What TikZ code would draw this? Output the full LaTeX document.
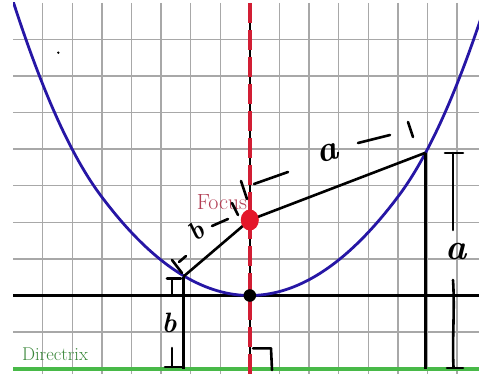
\documentclass[tikz,border=0pt]{standalone}
\usepackage{fontspec}
\definecolor{gridgray}{RGB}{168,168,168}
\definecolor{parblue}{RGB}{38,22,165}
\definecolor{focred}{RGB}{228,22,42}
\definecolor{axred}{RGB}{210,30,52}
\definecolor{dirgreen}{RGB}{72,185,72}
\definecolor{dirtext}{RGB}{58,135,58}
\definecolor{foctext}{RGB}{178,62,84}
\tikzset{
  gridline/.style={gridgray, line width=1.4pt},
  blackline/.style={black, line width=2.6pt},
  hand/.style={black, line width=2.6pt, line cap=round, line join=round},
  handtext/.style={inner sep=0pt, font=\bfseries\itshape\fontsize{#1}{#1}\selectfont},
  labeltext/.style={inner sep=0pt, font=\fontsize{#1}{#1}\selectfont}
}
\begin{document}
\begin{tikzpicture}[x=1pt,y=-1pt]
\useasboundingbox (0,0) rectangle (479,374);
\fill[white] (0,0) rectangle (479,374);
% grid
\foreach \i in {1,...,15} \draw[gridline] ({13+29.6*\i},3) -- ({13+29.6*\i},374);
\foreach \j in {-1,1,2,3,4,5,6,7} \draw[gridline] (13,{295.5-36.6*\j}) -- (479,{295.5-36.6*\j});
% key points
\coordinate (F) at (249.8,220);
\coordinate (V) at (249.8,295.5);
\coordinate (P) at (425.6,152.7);
\coordinate (Q) at (183.3,276.7);
\coordinate (Pd) at (425.6,368.5);
\coordinate (Qd) at (183.3,368.5);
\coordinate (AxL) at (13,295.5);
\coordinate (AxR) at (479,295.5);
\coordinate (DL) at (13,368.5);
\coordinate (DR) at (479,368.5);
\coordinate (Atop) at (249.8,3);
\coordinate (Abot) at (249.8,374);
% directrix
\draw[dirgreen, line width=4pt] (DL) -- (DR);
% horizontal axis
\draw[black, line width=2.8pt] (AxL) -- (AxR);
% parabola
\begin{scope}
\clip (13,3) rectangle (479,374);
\draw[parblue, line width=2.8pt] plot[domain=-2.4:2.4, samples=121, smooth]
  ({249.8+100*\x}, {295.5-45*abs(\x)*abs(\x)-56*max(0,abs(\x)-1.5)*max(0,abs(\x)-1.5)});
\end{scope}
% segments
\draw[blackline] (F) -- (P);
\draw[blackline] (F) -- (Q);
\draw[blackline] (P) -- (Pd);
\draw[blackline] (Q) -- (Qd);
% symmetry axis
\draw[black, line width=1.8pt] (Atop) -- (Abot);
\draw[axred, line width=3.6pt, dash pattern=on 20pt off 7pt] (Atop) -- (Abot);
% focus and vertex
\fill[focred] (F) ellipse [x radius=9, y radius=10.5];
\fill[black] (V) circle [radius=6.3];
% small dot
\fill[black] (58.3,52.7) circle [radius=1.3];
% labels
\node[labeltext=22, text=foctext] (flabel) at (222,202) {Focus};
\node[labeltext=18.5, text=dirtext] (dlabel) at (55,354.5) {Directrix};
% right angle mark
\draw[hand] (253,348.3) -- (271,348.3) -- (272,370);
% annotation along left segment
\draw[hand] (172,260) -- (182,273);
\draw[hand] (179,262) -- (186,256);
\node[handtext=26, rotate=40] (bseg) at (196,231) {b};
\draw[hand] (212,226) -- (228,219);
\draw[hand] (232,203) -- (238,215);
\draw[hand] (241,181) -- (247,199);
% annotation along right segment
\draw[hand] (254,184) -- (288,172);
\node[handtext=36, rotate=15] (aseg) at (328,153) {a};
\draw[hand] (358,143) -- (390,135);
\draw[hand] (408,122) -- (413,137);
% right vertical bracket (a)
\draw[hand] (445,153) -- (463,153);
\draw[hand] (453,153) -- (453,230);
\node[handtext=36] (avert) at (456,252) {a};
\draw[hand] (453,280) .. controls (455,310) and (452,340) .. (453.5,367);
\draw[hand] (447,368) -- (463,368);
% left vertical bracket (b)
\draw[hand] (167,278.3) -- (181,278.3);
\draw[hand] (172,278.3) -- (172,295);
\node[handtext=28] (bvert) at (169,323) {b};
\draw[hand] (172,348) -- (172,367);
\draw[hand] (165,367) -- (184,367);
\end{tikzpicture}
\end{document}
